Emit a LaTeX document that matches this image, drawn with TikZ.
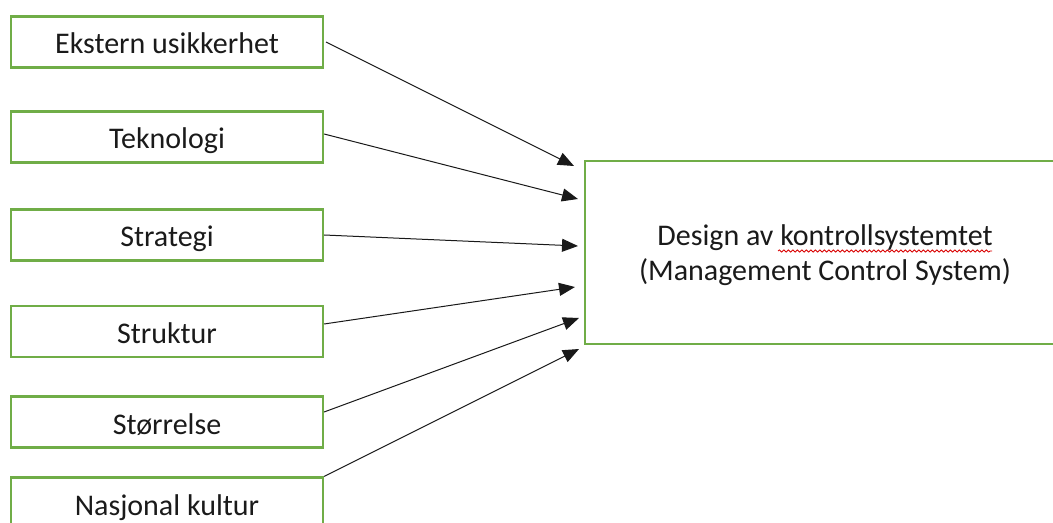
\documentclass[tikz,border=0pt]{standalone}
\usepackage{fontspec}
\setmainfont{Carlito}
\usetikzlibrary{arrows.meta,decorations.pathmorphing}
\definecolor{boxgreen}{HTML}{70AD47}
\definecolor{txt}{HTML}{1A1A1A}
\tikzset{
  factor/.style={draw=boxgreen, line width=2.2bp, minimum width=312bp, minimum height=51bp,
    inner sep=0pt, text=txt, text height=24bp, text depth=0bp,
    font=\fontsize{30bp}{35bp}\selectfont},
  target/.style={draw=boxgreen, line width=2.2bp, minimum width=480bp, minimum height=183bp,
    inner sep=0pt},
  caption/.style={inner sep=0pt, align=center, text=txt,
    font=\fontsize{30bp}{35bp}\selectfont},
  link/.style={draw=black!90, line width=1bp, -{Triangle[length=16bp,width=13bp]}},
  spell/.style={draw=red!85!black, line width=0.8bp,
    decorate, decoration={snake, amplitude=1.1bp, segment length=4.5bp}}
}
\begin{document}
\begin{tikzpicture}[x=1bp, y=-1bp]
  \useasboundingbox (0,0) rectangle (1053,523);

  % influencing factors
  \node[factor] (f1) at (167,42)    {Ekstern usikkerhet};
  \node[factor] (f2) at (167,137)   {Teknologi};
  \node[factor] (f3) at (167,235)   {Strategi};
  \node[factor] (f4) at (167,331.5) {Struktur};
  \node[factor] (f5) at (167,422)   {Størrelse};
  \node[factor] (f6) at (167,503)   {Nasjonal kultur};

  % control system design
  \node[target] (mcs) at (825,252.5) {};
  \node[caption, yshift=-3bp] (mcstext) at (mcs.center)
    {Design av kontrollsystemtet\\(Management Control System)};

  % arrow tips in front of the target box
  \coordinate (t1) at (574,166);
  \coordinate (t2) at (578,199);
  \coordinate (t3) at (578,246);
  \coordinate (t4) at (575,287);
  \coordinate (t5) at (579,318);
  \coordinate (t6) at (579,349);

  \draw[link] ([xshift=2bp]f1.east)   -- (t1);
  \draw[link] ([yshift=3bp]f2.east)   -- (t2);
  \draw[link] (f3.east)               -- (t3);
  \draw[link] ([yshift=7.5bp]f4.east) -- (t4);
  \draw[link] ([yshift=10bp]f5.east)  -- (t5);
  \draw[link] (f6.north east)         -- (t6);

  % spell-check underline
  \draw[spell] (778,251) -- (992,251);
\end{tikzpicture}
\end{document}
